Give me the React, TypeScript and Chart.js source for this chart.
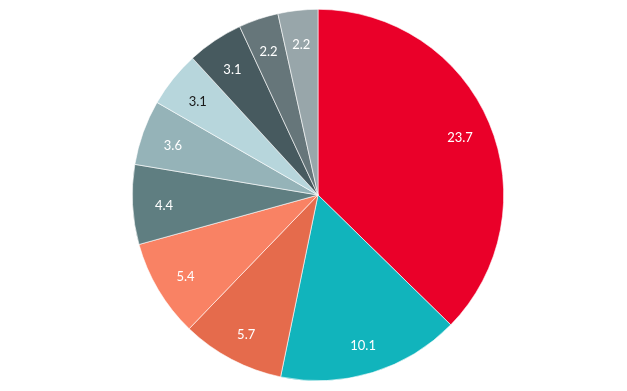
import React, { useEffect, useRef } from "react";
import { Chart, registerables } from "chart.js";

Chart.register(...registerables);

const categories = ["A", "B", "C", "D", "E", "F", "G", "H", "I", "J"];
const values = [23.7, 10.1, 5.7, 5.4, 4.4, 3.6, 3.1, 3.1, 2.2, 2.2];
const colors = [
  "#EA0029",
  "#11B4BC",
  "#E56B4C",
  "#F98264",
  "#5F7E81",
  "#95B3B8",
  "#B7D6DC",
  "#475A5F",
  "#66767A",
  "#98A6AA",
];
const labelColors = [
  "#ffffff",
  "#ffffff",
  "#ffffff",
  "#ffffff",
  "#ffffff",
  "#ffffff",
  "#1a1a1a",
  "#ffffff",
  "#ffffff",
  "#ffffff",
];

const labelPlugin = {
  id: "sliceLabels",
  afterDatasetsDraw(chart: any) {
    const ctx = chart.ctx;
    const meta = chart.getDatasetMeta(0);
    ctx.save();
    ctx.font = "13px Lato";
    ctx.textAlign = "center";
    ctx.textBaseline = "middle";
    meta.data.forEach((arc: any, i: number) => {
      const { x, y, startAngle, endAngle, outerRadius } = arc.getProps(
        ["x", "y", "startAngle", "endAngle", "outerRadius"],
        true
      );
      const mid = (startAngle + endAngle) / 2;
      const r = outerRadius * 0.83;
      ctx.fillStyle = labelColors[i];
      ctx.fillText(String(values[i]), x + Math.cos(mid) * r, y + Math.sin(mid) * r + 3);
    });
    ctx.restore();
  },
};

export default function App() {
  const ref = useRef<HTMLCanvasElement | null>(null);
  useEffect(() => {
    if (!ref.current) return;
    const chart = new Chart(ref.current, {
      type: "pie",
      data: {
        labels: categories,
        datasets: [
          {
            data: values,
            backgroundColor: colors,
            borderColor: "#ffffff",
            borderWidth: 0.6,
          },
        ],
      },
      options: {
        animation: false,
        responsive: false,
        maintainAspectRatio: false,
        layout: { padding: { top: 9, bottom: 10, left: 9, right: 0 } },
        plugins: { legend: { display: false }, tooltip: { enabled: false } },
      },
      plugins: [labelPlugin],
    });
    return () => chart.destroy();
  }, []);
  return (
    <div style={{ position: "absolute", left: 0, top: 0, width: 627, height: 391, background: "#fff" }}>
      <canvas ref={ref} width={627} height={391} style={{ width: 627, height: 391 }} />
    </div>
  );
}
